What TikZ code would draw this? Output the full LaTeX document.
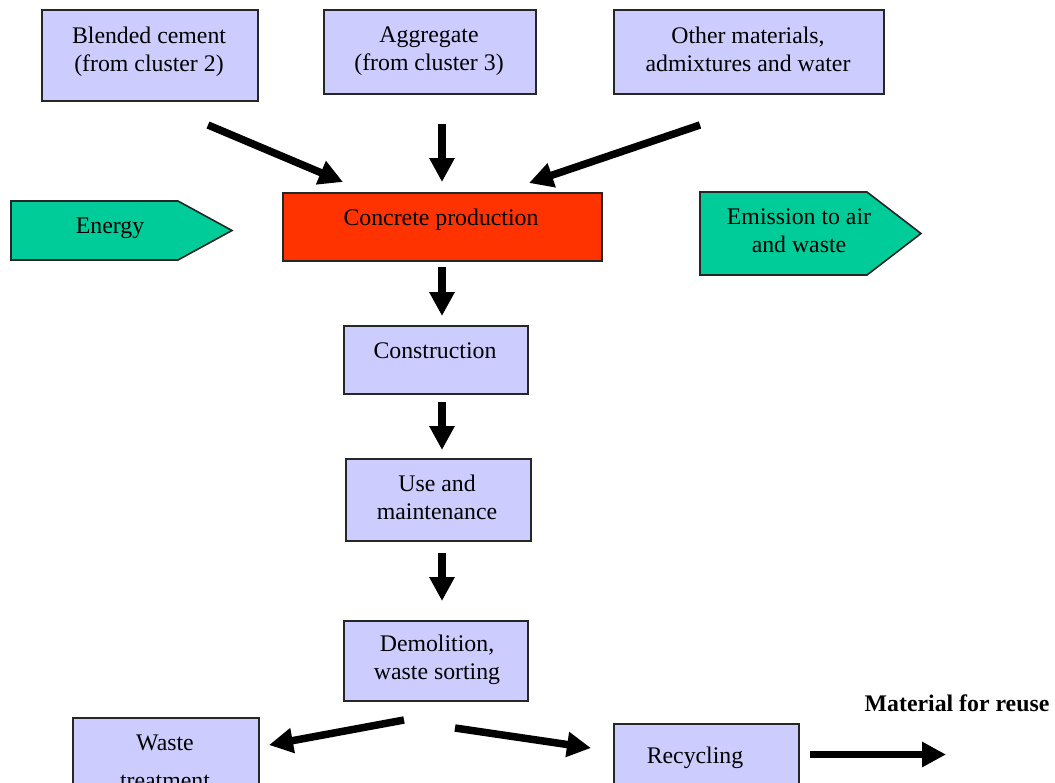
\documentclass[tikz,border=0pt]{standalone}
\usepackage{fontspec}
\setmainfont{Liberation Serif}
\usetikzlibrary{arrows.meta}
\definecolor{stage}{HTML}{CCCCFF}
\definecolor{hot}{HTML}{FF3300}
\definecolor{flow}{HTML}{00CC99}
\tikzset{
  box/.style={draw=black!85, line width=1.6pt, fill=stage, anchor=north west, inner sep=0pt},
  hotbox/.style={box, fill=hot},
  txt/.style={anchor=north, inner sep=0pt, align=center, font=\fontsize{23.8}{28}\selectfont},
  bigarrow/.style={line width=7.5pt, -{Triangle[length=24pt,width=24pt]}},
  pentagon/.style={draw=black!85, line width=1.6pt, fill=flow, line join=miter}
}
\begin{document}
\begin{tikzpicture}[x=1pt, y=-1pt]
\useasboundingbox (0,0) rectangle (1055,782);
\clip (0,0) rectangle (1055,782);

% input materials
\node[box, minimum width=216, minimum height=91] (blend) at (41,9) {};
\node[txt] (blendT) at (149,27) {Blended cement\\(from cluster 2)};
\node[box, minimum width=212, minimum height=84] (aggr) at (323,9) {};
\node[txt] (aggrT) at (429,27) {Aggregate\\(from cluster 3)};
\node[box, minimum width=270, minimum height=84] (other) at (613,9) {};
\node[txt] (otherT) at (748,27) {Other materials,\\admixtures and water};

% production and side flows
\node[hotbox, minimum width=319, minimum height=68] (prod) at (282,192) {};
\node[txt] (prodT) at (441,209) {Concrete production};

\draw[pentagon] (11,201) -- (178,201) -- (232,230.5) -- (178,260) -- (11,260) -- cycle;
\node[txt] (energy) at (110,218) {Energy};
\draw[pentagon] (700,192) -- (867,192) -- (921,233.5) -- (867,275) -- (700,275) -- cycle;
\node[txt] (emis) at (799,209) {Emission to air\\and waste};

% life cycle stages
\node[box, minimum width=184, minimum height=68] (constr) at (343,325) {};
\node[txt] (constrT) at (435,343) {Construction};
\node[box, minimum width=185, minimum height=82] (use) at (345,458) {};
\node[txt] (useT) at (437,475) {Use and\\maintenance};
\node[box, minimum width=184, minimum height=80] (demo) at (343,620) {};
\node[txt] (demoT) at (437,635) {Demolition,\\waste sorting};
\node[box, minimum width=186, minimum height=90] (waste) at (72,717) {};
\node[txt] (wasteT) at (165,735) {Waste\\[10pt]treatment};
\node[box, minimum width=185, minimum height=90] (recyc) at (613,723) {};
\node[txt] (recycT) at (695,747) {Recycling};
\node[txt, font=\fontsize{23.8}{28}\selectfont\bfseries] (reuse) at (957,695) {Material for reuse};

% arrow end points
\coordinate (a1s) at (208,125); \coordinate (a1e) at (343,182);
\coordinate (a2s) at (442,124); \coordinate (a2e) at (442,182);
\coordinate (a3s) at (700,125); \coordinate (a3e) at (529,183);
\coordinate (a4s) at (442,267); \coordinate (a4e) at (442,316);
\coordinate (a5s) at (442,402); \coordinate (a5e) at (442,450);
\coordinate (a6s) at (442,553); \coordinate (a6e) at (442,601);
\coordinate (a7s) at (404,720); \coordinate (a7e) at (269,745);
\coordinate (a8s) at (455,728); \coordinate (a8e) at (591,748);
\coordinate (a9s) at (810,754.5); \coordinate (a9e) at (946,754.5);

\foreach \a in {1,...,9}
  \draw[bigarrow] (a\a s) -- (a\a e);
\end{tikzpicture}
\end{document}
